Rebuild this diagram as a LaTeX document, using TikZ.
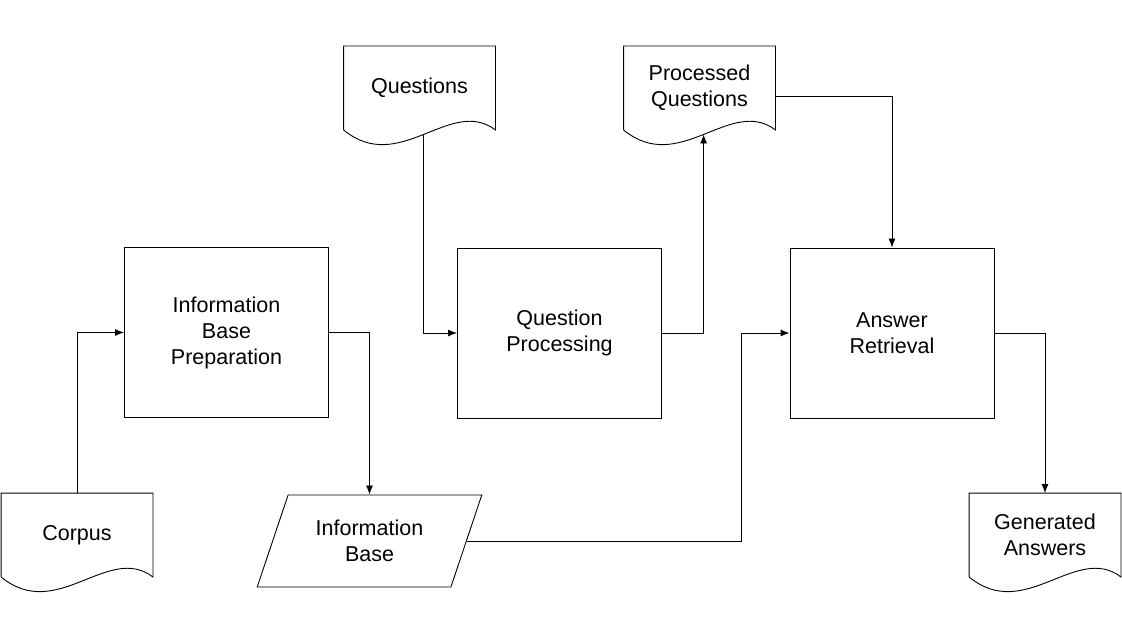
\documentclass[tikz,border=0pt]{standalone}
\usepackage{fontspec}
\setmainfont{Liberation Sans}
\usetikzlibrary{arrows.meta,shapes.geometric,calc}
\tikzset{
  box/.style={draw,minimum width=204,minimum height=170,inner sep=0,align=center},
  doc/.style={minimum width=151,minimum height=83,inner sep=0,align=center},
  data/.style={draw,trapezium,trapezium left angle=64,trapezium right angle=116,
    minimum width=225,minimum height=92,trapezium stretches=true,inner sep=0,align=center}
}
\newcommand{\docshape}[1]{%
\draw (#1.south west) -- (#1.north west) -- (#1.north east) -- (#1.south east)
  .. controls ($(#1.south east)+(-45,-34)$) and ($(#1.south west)+(56,46)$) .. (#1.south west)
  coordinate[pos=.5] (#1-w);
}
\begin{document}
\begin{tikzpicture}[x=1pt,y=-1pt,line width=.9pt,>={Latex[length=9pt,width=7pt]},
  font=\fontsize{21.5}{26}\selectfont]
\useasboundingbox (0,0) rectangle (1122,642);
\node[box] (ibp) at (226.5,332.5) {Information\\Base\\Preparation};
\node[box] (qp) at (559.5,333) {Question\\Processing};
\node[box] (ar) at (892,333) {Answer\\Retrieval};
\node[doc] (corpus) at (77,535) {Corpus};
\node[doc] (q) at (419.5,88) {Questions};
\node[doc] (pq) at (699.5,88) {Processed\\Questions};
\node[doc] (ga) at (1045,535) {Generated\\Answers};
\node[data] (ib) at (369.5,541) {Information\\Base};
\docshape{corpus}
\docshape{q}
\docshape{pq}
\docshape{ga}
\draw[->] (corpus.north) |- (ibp.west);
\draw[->] (ibp.east) -| (ib.north);
\draw[->] (q-w) |- (qp.west);
\draw[->] (qp.east) -| (pq-w);
\draw[->] ([yshift=-8pt]pq.east) -| (ar.north);
\draw[->] (ib.east) -| ([xshift=-48pt]ar.west) -- (ar.west);
\draw[->] (ar.east) -| (ga.north);
\end{tikzpicture}
\end{document}
